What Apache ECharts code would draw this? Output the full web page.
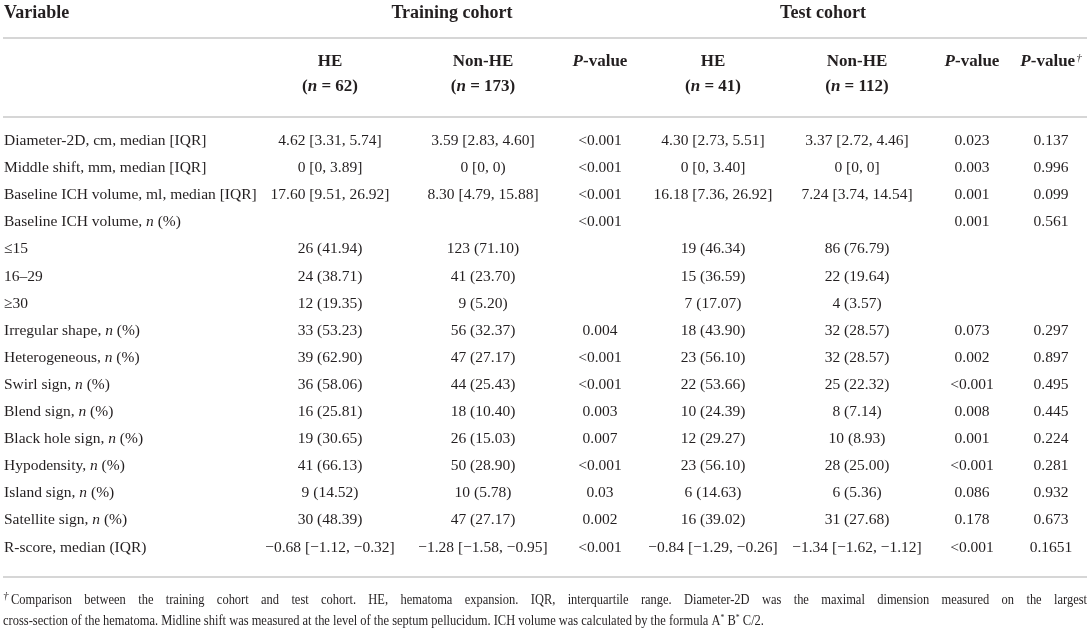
<!DOCTYPE html>
<html>
<head>
<meta charset="utf-8">
<script src="https://cdn.jsdelivr.net/npm/echarts@6/dist/echarts.min.js"></script>
<style>
html,body{margin:0;padding:0;background:#fff;}
#main{width:1091px;height:629px;}
</style>
</head>
<body>
<div id="main"></div>
<script>
//表格数据
var groupNames = ['Training cohort', 'Test cohort'];
var colHeads = ['HE', 'Non-HE', '{pi|P}-value', 'HE', 'Non-HE', '{pi|P}-value', '{pi|P}-value{sup|†}'];
var colN = ['({ni|n} = 62)', '({ni|n} = 173)', '', '({ni|n} = 41)', '({ni|n} = 112)', '', ''];
var variables = [
	'Diameter-2D, cm, median [IQR]',
	'Middle shift, mm, median [IQR]',
	'Baseline ICH volume, ml, median [IQR]',
	'Baseline ICH volume, {i|n} (%)',
	'≤15',
	'16–29',
	'≥30',
	'Irregular shape, {i|n} (%)',
	'Heterogeneous, {i|n} (%)',
	'Swirl sign, {i|n} (%)',
	'Blend sign, {i|n} (%)',
	'Black hole sign, {i|n} (%)',
	'Hypodensity, {i|n} (%)',
	'Island sign, {i|n} (%)',
	'Satellite sign, {i|n} (%)',
	'R-score, median (IQR)'
];
var trainHE = ['4.62 [3.31, 5.74]', '0 [0, 3.89]', '17.60 [9.51, 26.92]', '', '26 (41.94)', '24 (38.71)', '12 (19.35)',
	'33 (53.23)', '39 (62.90)', '36 (58.06)', '16 (25.81)', '19 (30.65)', '41 (66.13)', '9 (14.52)', '30 (48.39)', '−0.68 [−1.12, −0.32]'];
var trainNonHE = ['3.59 [2.83, 4.60]', '0 [0, 0)', '8.30 [4.79, 15.88]', '', '123 (71.10)', '41 (23.70)', '9 (5.20)',
	'56 (32.37)', '47 (27.17)', '44 (25.43)', '18 (10.40)', '26 (15.03)', '50 (28.90)', '10 (5.78)', '47 (27.17)', '−1.28 [−1.58, −0.95]'];
var trainP = ['<0.001', '<0.001', '<0.001', '<0.001', '', '', '',
	'0.004', '<0.001', '<0.001', '0.003', '0.007', '<0.001', '0.03', '0.002', '<0.001'];
var testHE = ['4.30 [2.73, 5.51]', '0 [0, 3.40]', '16.18 [7.36, 26.92]', '', '19 (46.34)', '15 (36.59)', '7 (17.07)',
	'18 (43.90)', '23 (56.10)', '22 (53.66)', '10 (24.39)', '12 (29.27)', '23 (56.10)', '6 (14.63)', '16 (39.02)', '−0.84 [−1.29, −0.26]'];
var testNonHE = ['3.37 [2.72, 4.46]', '0 [0, 0]', '7.24 [3.74, 14.54]', '', '86 (76.79)', '22 (19.64)', '4 (3.57)',
	'32 (28.57)', '32 (28.57)', '25 (22.32)', '8 (7.14)', '10 (8.93)', '28 (25.00)', '6 (5.36)', '31 (27.68)', '−1.34 [−1.62, −1.12]'];
var testP = ['0.023', '0.003', '0.001', '0.001', '', '', '',
	'0.073', '0.002', '<0.001', '0.008', '0.001', '<0.001', '0.086', '0.178', '<0.001'];
var cohortP = ['0.137', '0.996', '0.099', '0.561', '', '', '',
	'0.297', '0.897', '0.495', '0.445', '0.224', '0.281', '0.932', '0.673', '0.1651'];
var footLine1 = 'Comparison between the training cohort and test cohort. HE, hematoma expansion. IQR, interquartile range. Diameter-2D was the maximal dimension measured on the largest';
var footLine2 = 'cross-section of the hematoma. Midline shift was measured at the level of the septum pellucidum. ICH volume was calculated by the formula A{s|*} B{s|*} C/2.';

var FONT = '"Liberation Serif", "DejaVu Serif", serif';
var INK = '#231f20';
var colX = [330, 483, 600, 713, 857, 972, 1051];
var groupX = [452, 823];
var rowY0 = 141, rowH = 27.1;
var lineY = [38, 117, 577];
var BODY = 15.5, HEAD = 18, SUB = 17, FOOT = 14.5, FOOT_SX = 0.86;

var rich = {
	i: {fontStyle: 'italic', fontFamily: FONT, fontSize: BODY, fill: INK},
	ni: {fontStyle: 'italic', fontWeight: 'bold', fontFamily: FONT, fontSize: SUB, fill: INK},
	pi: {fontStyle: 'italic', fontWeight: 'bold', fontFamily: FONT, fontSize: SUB, fill: INK},
	sup: {fontStyle: 'italic', fontFamily: FONT, fontSize: 11, fill: INK, padding: [0, 0, 8, 1]},
	d: {fontStyle: 'italic', fontFamily: FONT, fontSize: 11, fill: INK, padding: [0, 1, 7, 0]},
	s: {fontFamily: FONT, fontSize: 9, fill: INK, padding: [0, 0, 7, 0]}
};

var els = [];
function txt(x, y, text, align, size, weight, sx) {
	els.push({
		type: 'text', x: x, y: y, scaleX: sx || 1, silent: true,
		style: {
			text: text, fill: INK, font: (weight || 'normal') + ' ' + size + 'px ' + FONT,
			align: align, verticalAlign: 'middle', rich: rich
		}
	});
}
function hline(y) {
	els.push({type: 'line', silent: true, shape: {x1: 3, y1: y, x2: 1087, y2: y},
		style: {stroke: '#c8c8c8', lineWidth: 1.5}});
}

// 表头
txt(4, 13, 'Variable', 'left', HEAD, 'bold');
groupNames.forEach(function (g, k) { txt(groupX[k], 13, g, 'center', HEAD, 'bold'); });
colHeads.forEach(function (h, k) {
	txt(colX[k], 62, h, 'center', SUB, 'bold');
	if (colN[k]) txt(colX[k], 87, colN[k], 'center', SUB, 'bold');
});
lineY.forEach(hline);

// 表体
var cols = [trainHE, trainNonHE, trainP, testHE, testNonHE, testP, cohortP];
variables.forEach(function (v, r) {
	var y = rowY0 + r * rowH;
	txt(4, y, v, 'left', BODY);
	cols.forEach(function (c, k) {
		if (c[r]) txt(colX[k], y, c[r], 'center', BODY);
	});
});

// 脚注：第一行两端对齐
var ctx = document.createElement('canvas').getContext('2d');
ctx.font = FOOT + 'px ' + FONT;
var words = footLine1.split(' ');
var x0 = 11, x1 = 1087;
var widths = words.map(function (w) { return ctx.measureText(w).width * FOOT_SX; });
var sum = widths.reduce(function (a, b) { return a + b; }, 0);
var gap = (x1 - x0 - sum) / (words.length - 1);
txt(3, 600, '{d|†}', 'left', FOOT);
var cx = x0;
words.forEach(function (w, k) {
	txt(cx, 600, w, 'left', FOOT, 'normal', FOOT_SX);
	cx += widths[k] + gap;
});
txt(3, 621, footLine2, 'left', FOOT, 'normal', FOOT_SX);

var chart = echarts.init(document.getElementById('main'));
chart.setOption({
	backgroundColor: '#ffffff',
	animation: false,
	graphic: {elements: els}
});
</script>
</body>
</html>
